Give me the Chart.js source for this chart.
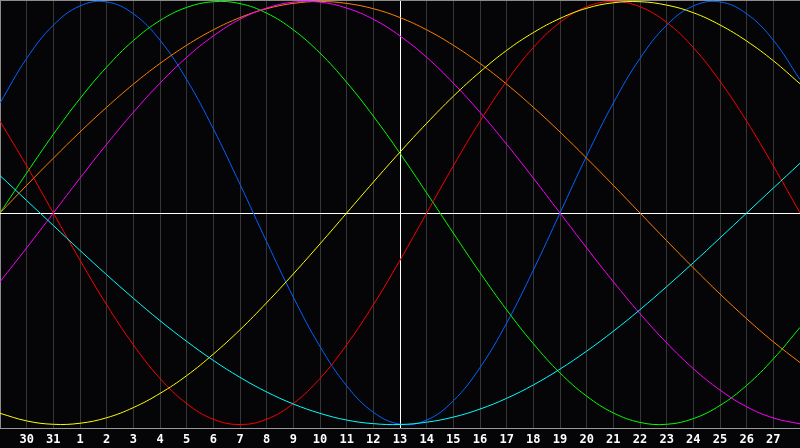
<!DOCTYPE html>
<html>
<head>
<meta charset="utf-8">
<script src="https://cdn.jsdelivr.net/npm/chart.js@4.4.1/dist/chart.umd.min.js"></script>
<style>
html,body{margin:0;padding:0;background:#050508;overflow:hidden}
#wrap{width:800px;height:448px;position:relative}
</style>
</head>
<body>
<div id="wrap"><canvas id="c" width="800" height="448"></canvas></div>
<script>
// Day-of-month labels (previous month 29..31, then 1..28)
const dayLabels = ['29','30','31','1','2','3','4','5','6','7','8','9','10','11','12','13','14','15','16','17','18','19','20','21','22','23','24','25','26','27','28'];

// Series values (-1 .. 1), one per day
const physical23 = [0.520,0.731,0.888,0.979,0.998,0.942,0.817,0.631,0.398,0.136,-0.136,-0.398,-0.631,-0.817,-0.942,-0.998,-0.979,-0.888,-0.731,-0.520,-0.270,0,0.270,0.520,0.731,0.888,0.979,0.998,0.942,0.817,0.631];
const emotional28 = [0.434,0.223,0,-0.223,-0.434,-0.623,-0.782,-0.901,-0.975,-1.000,-0.975,-0.901,-0.782,-0.623,-0.434,-0.223,0,0.223,0.434,0.623,0.782,0.901,0.975,1.000,0.975,0.901,0.782,0.623,0.434,0.223,0];
const intellectual33 = [0,0.189,0.372,0.541,0.690,0.815,0.910,0.972,0.999,0.990,0.945,0.866,0.756,0.618,0.458,0.282,0.095,-0.095,-0.282,-0.458,-0.618,-0.756,-0.866,-0.945,-0.990,-0.999,-0.972,-0.910,-0.815,-0.690,-0.541];
const intuitive38 = [-0.325,-0.165,0,0.165,0.325,0.476,0.614,0.736,0.837,0.916,0.969,0.997,0.997,0.969,0.916,0.837,0.736,0.614,0.476,0.325,0.165,0,-0.165,-0.325,-0.476,-0.614,-0.736,-0.837,-0.916,-0.969,-0.997];
const aesthetic43 = [-0.947,-0.983,-0.999,-0.994,-0.968,-0.920,-0.853,-0.769,-0.667,-0.552,-0.424,-0.288,-0.146,0,0.146,0.288,0.424,0.552,0.667,0.769,0.853,0.920,0.968,0.994,0.999,0.983,0.947,0.889,0.813,0.720,0.611];
const awareness48 = [0,0.131,0.259,0.383,0.500,0.609,0.707,0.793,0.866,0.924,0.966,0.991,1.000,0.991,0.966,0.924,0.866,0.793,0.707,0.609,0.500,0.383,0.259,0.131,0,-0.131,-0.259,-0.383,-0.500,-0.609,-0.707];
const spiritual53 = [0.177,0.059,-0.059,-0.177,-0.292,-0.403,-0.509,-0.607,-0.697,-0.777,-0.846,-0.903,-0.947,-0.979,-0.996,-1.000,-0.989,-0.965,-0.927,-0.876,-0.813,-0.738,-0.653,-0.559,-0.457,-0.348,-0.235,-0.118,0,0.118,0.235];

const TODAY_INDEX = 15;
const Y_MIN = -1.0165;
const Y_MAX = 1.0071;

function ds(label, data, color){
  return {label, data, borderColor: color, backgroundColor: color, borderWidth: 1,
    pointRadius: 0, tension: 0.4, fill: false};
}

new Chart(document.getElementById('c'), {
  type: 'line',
  data: {
    labels: dayLabels,
    datasets: [
      ds('Spiritual', spiritual53, '#00ffff'),
      ds('Aesthetic', aesthetic43, '#ffff00'),
      ds('Emotional', emotional28, '#ff0000'),
      ds('Intuitive', intuitive38, '#ff00ff'),
      ds('Awareness', awareness48, '#ff8000'),
      ds('Intellectual', intellectual33, '#00ff00'),
      ds('Physical', physical23, '#0064ff')
    ]
  },
  options: {
    responsive: false,
    animation: false,
    devicePixelRatio: 1,
    layout: {padding: 0},
    plugins: {legend: {display: false}, tooltip: {enabled: false}},
    scales: {
      x: {
        type: 'category',
        offset: false,
        grid: {
          offset: false,
          drawTicks: false,
          lineWidth: 1,
          color: (c) => c.index === TODAY_INDEX ? '#ffffff' : (c.index === 0 ? '#8c8c8c' : '#363636')
        },
        border: {display: true, color: '#9a9a9a', width: 1},
        ticks: {
          autoSkip: false,
          maxRotation: 0,
          padding: 5,
          color: '#ffffff',
          font: {family: '"DejaVu Sans Mono", monospace', size: 12, weight: 'bold'},
          callback: (v, i) => (i === 0 || i === dayLabels.length - 1) ? '' : dayLabels[i]
        },
        afterFit: (s) => { s.height = 20; s.paddingLeft = 0; s.paddingRight = 0; }
      },
      y: {
        min: Y_MIN,
        max: Y_MAX,
        grid: {
          drawTicks: false,
          lineWidth: 1,
          color: (c) => c.tick.value === 0 ? '#ffffff' : '#8c8c8c'
        },
        border: {display: false},
        ticks: {display: false},
        afterBuildTicks: (s) => { s.ticks = [{value: 0}, {value: Y_MAX}]; },
        afterFit: (s) => { s.width = 0; s.paddingTop = 0; s.paddingBottom = 0; }
      }
    }
  }
});
</script>
</body>
</html>
